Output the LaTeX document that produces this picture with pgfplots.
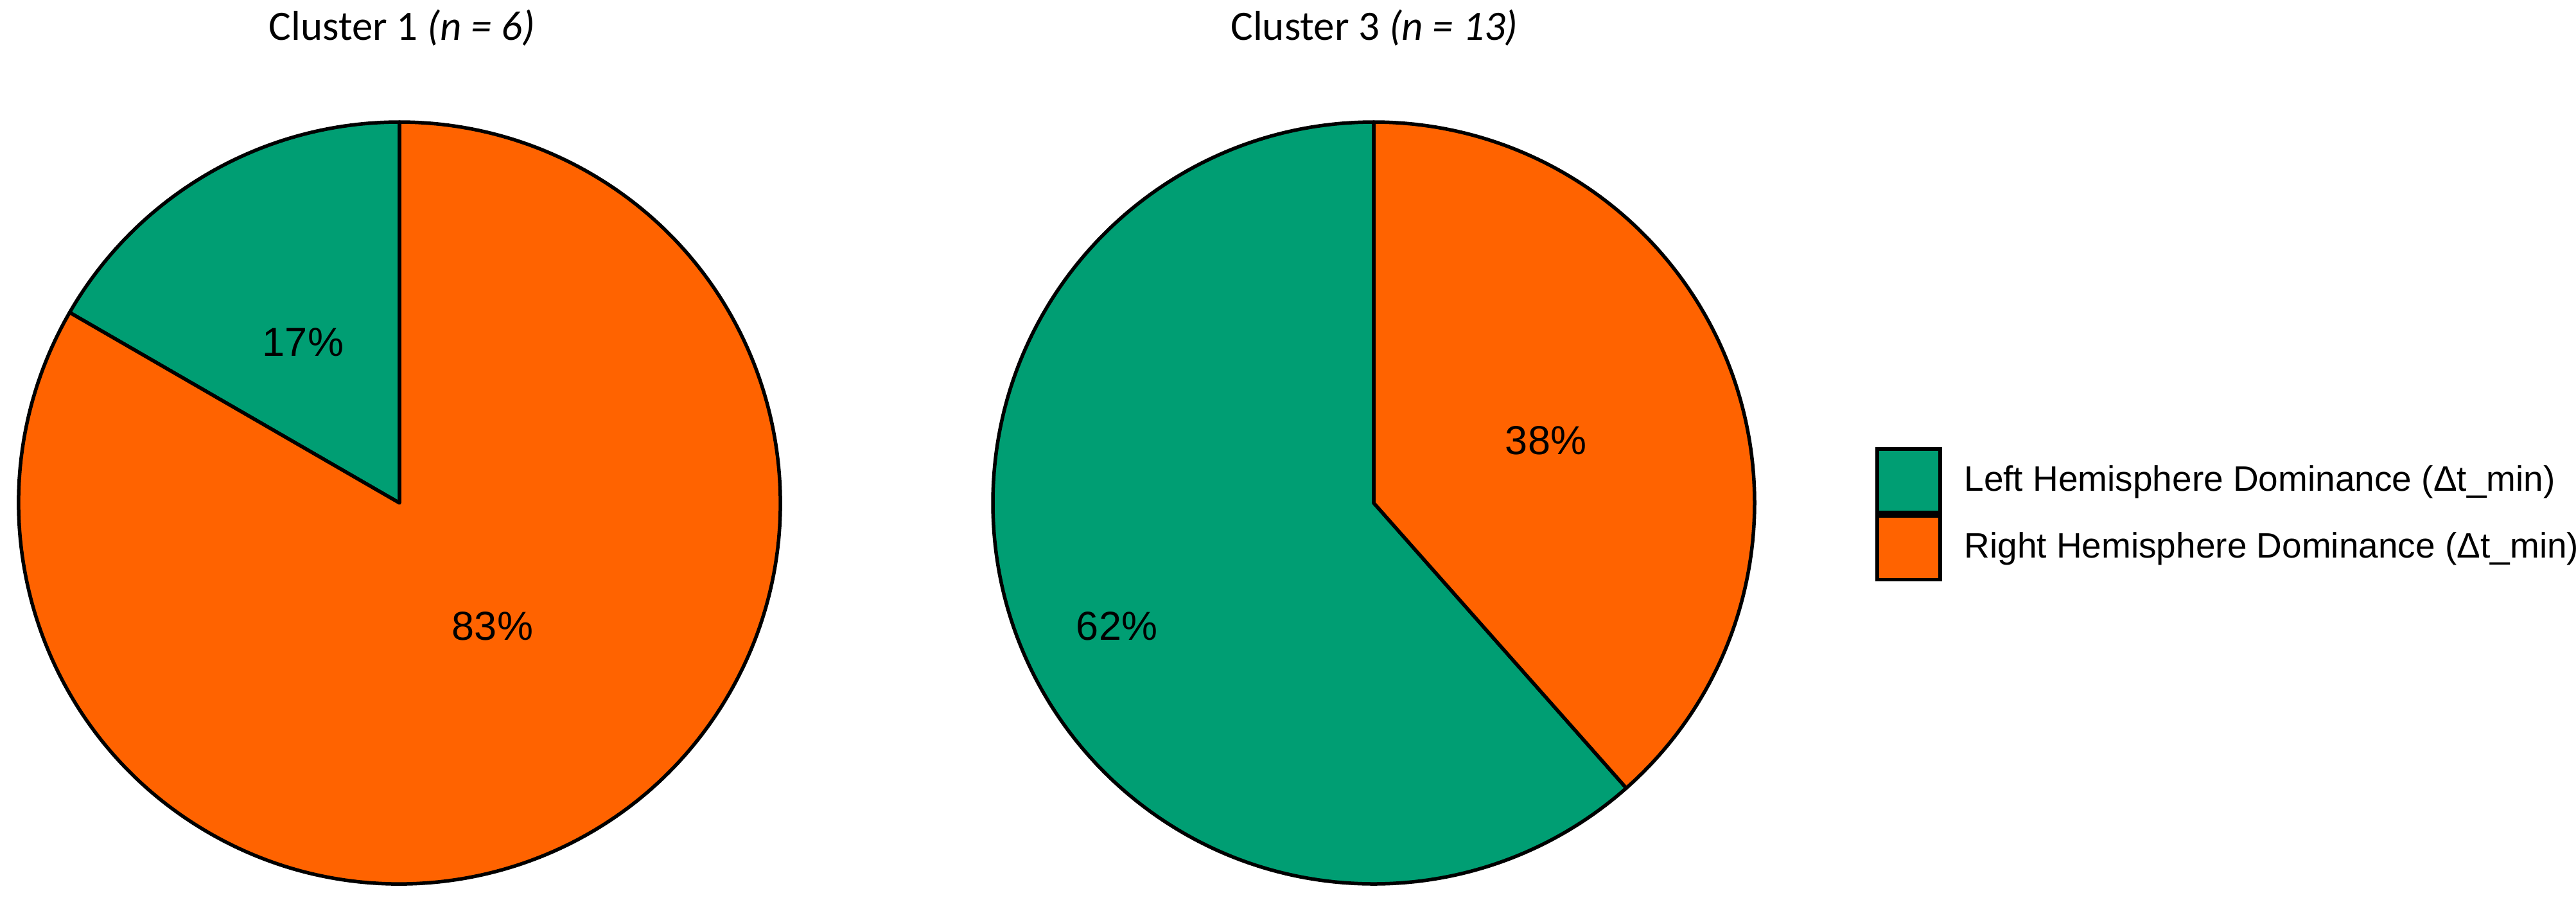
\documentclass[border=0pt]{standalone}
\usepackage{fontspec}
\setmainfont{Liberation Sans}
\newfontfamily\titlefont{Carlito}
\usepackage{pgfplots}
\pgfplotsset{compat=1.18}

\definecolor{lefthem}{HTML}{009E73}
\definecolor{righthem}{HTML}{FF6300}

% counts: left / right hemisphere dominance
\def\cOneL{1}\def\cOneR{5}
\def\cThreeL{8}\def\cThreeR{5}
\pgfmathsetmacro{\aOne}{90+360*\cOneL/(\cOneL+\cOneR)}
\pgfmathsetmacro{\aThree}{90+360*\cThreeL/(\cThreeL+\cThreeR)}
\def\R{118.6pt}

\begin{document}
\begin{tikzpicture}
\begin{axis}[
    scale only axis,
    width=802.2pt, height=282.2pt,
    xmin=0, xmax=4011, ymin=0, ymax=1411,
    hide axis, clip=false,
    legend style={at={(axis description cs:0.728,0.5067)}, anchor=north west,
        draw=none, fill=none, inner sep=0pt, outer sep=0pt,
        row sep=0pt, column sep=7pt,
        font=\fontsize{11}{13}\selectfont,
        nodes={inner sep=0pt, outer sep=0pt},
        cells={anchor=west}},
]
\addlegendimage{legend image code/.code={\draw[fill=lefthem, draw=black, line width=1.1pt] (0pt,-9.9pt) rectangle (19.6pt,9.9pt);}}
\addlegendentry{Left Hemisphere Dominance (Δt\_min)}
\addlegendimage{legend image code/.code={\draw[fill=righthem, draw=black, line width=1.1pt] (0pt,-9.9pt) rectangle (19.6pt,9.9pt);}}
\addlegendentry{Right Hemisphere Dominance (Δt\_min)}

% Cluster 1
\filldraw[fill=lefthem, draw=black, line width=1.1pt, line join=round]
    (axis cs:622,628) -- ++(90:\R) arc[start angle=90, end angle=\aOne, radius=\R] -- cycle;
\filldraw[fill=righthem, draw=black, line width=1.1pt, line join=round]
    (axis cs:622,628) -- ++(\aOne:\R) arc[start angle=\aOne, end angle=450, radius=\R] -- cycle;
% Cluster 3
\filldraw[fill=lefthem, draw=black, line width=1.1pt, line join=round]
    (axis cs:2139,628) -- ++(90:\R) arc[start angle=90, end angle=\aThree, radius=\R] -- cycle;
\filldraw[fill=righthem, draw=black, line width=1.1pt, line join=round]
    (axis cs:2139,628) -- ++(\aThree:\R) arc[start angle=\aThree, end angle=450, radius=\R] -- cycle;

\node[font=\fontsize{12.6}{15}\selectfont] at (axis cs:472,878) {17\%};
\node[font=\fontsize{12.6}{15}\selectfont] at (axis cs:767,436) {83\%};
\node[font=\fontsize{12.6}{15}\selectfont] at (axis cs:1739,436) {62\%};
\node[font=\fontsize{12.6}{15}\selectfont] at (axis cs:2407,725) {38\%};

\node[anchor=base, font=\titlefont\fontsize{13}{15}\selectfont] at (axis cs:626,1349) {Cluster 1 \textit{(n = 6)}};
\node[anchor=base, font=\titlefont\fontsize{13}{15}\selectfont] at (axis cs:2140,1349) {Cluster 3 \textit{(n = 13)}};
\end{axis}
\pgfresetboundingbox
\useasboundingbox (current axis.south west) rectangle (current axis.north east);
\end{tikzpicture}
\end{document}
